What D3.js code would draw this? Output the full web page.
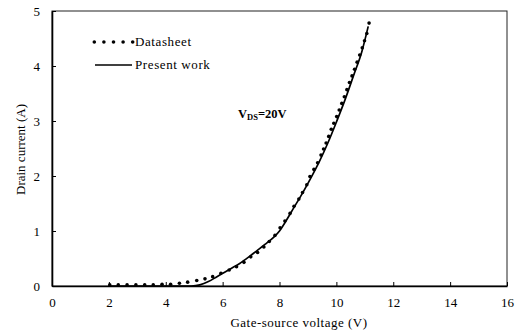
<!DOCTYPE html>
<html>
<head>
<meta charset="utf-8">
<script src="https://cdn.jsdelivr.net/npm/d3@7"></script>
<style>
  html, body { margin: 0; padding: 0; background: #fff; }
  svg { display: block; }
  text { font-family: "Liberation Serif", "Times New Roman", serif; fill: #000; }
</style>
</head>
<body>
<svg id="chart" width="520" height="336"></svg>
<script>
// Gate-source voltage (V) and drain current (A) for the datasheet points
const datasheetVgs = [2.03, 2.33, 2.64, 2.95, 3.26, 3.56, 3.87, 4.17, 4.48, 4.77,
  5.09, 5.38, 5.65, 5.94, 6.23, 6.49, 6.75, 6.99, 7.23, 7.45,
  7.64, 7.84, 8.02, 8.19, 8.37, 8.51, 8.68, 8.81, 8.96, 9.07,
  9.21, 9.34, 9.46, 9.55, 9.64, 9.73, 9.82, 9.91, 10.01, 10.10,
  10.19, 10.28, 10.37, 10.46, 10.55, 10.64, 10.73, 10.82, 10.91, 10.99,
  11.07, 11.15];
const datasheetId = [0.02, 0.02, 0.02, 0.02, 0.02, 0.02, 0.03, 0.03, 0.05, 0.07,
  0.10, 0.13, 0.17, 0.23, 0.29, 0.35, 0.43, 0.53, 0.61, 0.71,
  0.81, 0.92, 1.06, 1.18, 1.32, 1.45, 1.58, 1.70, 1.84, 1.99,
  2.12, 2.24, 2.38, 2.49, 2.60, 2.72, 2.85, 2.96, 3.08, 3.20,
  3.32, 3.44, 3.57, 3.70, 3.82, 3.94, 4.07, 4.20, 4.33, 4.46,
  4.59, 4.78];

// Model curve ("Present work")
const modelVgs = [2.0, 3.0, 4.0, 4.9, 5.2, 5.5, 5.8, 6.0, 6.3, 6.6,
  6.9, 7.2, 7.5, 7.8, 8.0, 8.2, 8.5, 8.8, 9.1, 9.4,
  9.7, 10.0, 10.3, 10.6, 10.9, 11.12];
const modelId = [0, 0, 0, 0, 0.02, 0.08, 0.17, 0.23, 0.32, 0.41,
  0.52, 0.64, 0.76, 0.89, 1.0, 1.16, 1.42, 1.68, 1.96, 2.26,
  2.60, 2.98, 3.38, 3.82, 4.27, 4.72];

const xTicks = [0, 2, 4, 6, 8, 10, 12, 14, 16];
const yTicks = [0, 1, 2, 3, 4, 5];
const seriesNames = ["Datasheet", "Present work"];

const svg = d3.select("#chart");
const plotLeft = 52, plotRight = 507, plotTop = 11, plotBottom = 286;

const x = d3.scaleLinear().domain([0, 16]).range([plotLeft, plotRight]);
const y = d3.scaleLinear().domain([0, 5]).range([plotBottom, plotTop]);

// plot frame
svg.append("rect")
  .attr("x", plotLeft).attr("y", plotTop)
  .attr("width", plotRight - plotLeft).attr("height", plotBottom - plotTop)
  .attr("fill", "none").attr("stroke", "#222").attr("stroke-width", 1);

// axes with inward ticks
const xAxis = svg.append("g")
  .attr("transform", `translate(0,${plotBottom})`)
  .call(d3.axisBottom(x).tickValues(xTicks).tickFormat(d3.format("d"))
    .tickSizeInner(-4).tickSizeOuter(0).tickPadding(12));
const yAxis = svg.append("g")
  .attr("transform", `translate(${plotLeft},0)`)
  .call(d3.axisLeft(y).tickValues(yTicks).tickFormat(d3.format("d"))
    .tickSizeInner(-4).tickSizeOuter(0).tickPadding(12));

[xAxis, yAxis].forEach(g => {
  g.select(".domain").attr("stroke", "#000").attr("stroke-width", 1.6);
  g.selectAll(".tick line").attr("stroke", "#000").attr("stroke-width", 1);
  g.selectAll(".tick text")
    .style("font-family", '"Liberation Serif", "Times New Roman", serif')
    .style("font-size", "13px").attr("fill", "#000");
});

// axis titles
svg.append("text")
  .attr("x", 299).attr("y", 327)
  .attr("text-anchor", "middle")
  .style("font-size", "13px").style("letter-spacing", "0.5px")
  .text("Gate-source voltage (V)");
svg.append("text")
  .attr("transform", `translate(25,${(plotTop + plotBottom) / 2 + 1}) rotate(-90)`)
  .attr("text-anchor", "middle")
  .style("font-size", "13px")
  .text("Drain current (A)");

// model line
const line = d3.line()
  .x((d, i) => x(modelVgs[i]))
  .y((d, i) => y(modelId[i]))
  .curve(d3.curveMonotoneX);
svg.append("path")
  .datum(modelVgs)
  .attr("d", line)
  .attr("fill", "none")
  .attr("stroke", "#000")
  .attr("stroke-width", 1.7);

// datasheet points
svg.append("g").selectAll("circle")
  .data(datasheetVgs)
  .join("circle")
  .attr("cx", d => x(d))
  .attr("cy", (d, i) => y(datasheetId[i]))
  .attr("r", 1.8)
  .attr("fill", "#000");

// legend
const legend = svg.append("g");
d3.range(5).forEach(i => {
  legend.append("circle")
    .attr("cx", 94.3 + i * 9.6).attr("cy", 42)
    .attr("r", 1.8).attr("fill", "#000");
});
legend.append("line")
  .attr("x1", 95).attr("x2", 132)
  .attr("y1", 65).attr("y2", 65)
  .attr("stroke", "#000").attr("stroke-width", 1.7);
legend.selectAll("text")
  .data(seriesNames)
  .join("text")
  .attr("x", 135)
  .attr("y", (d, i) => i === 0 ? 45.5 : 69)
  .style("font-size", "13px").style("letter-spacing", "0.6px")
  .text(d => d);

// operating condition label
const cond = svg.append("text")
  .attr("x", 238).attr("y", 118)
  .style("font-size", "12.5px").style("font-weight", "bold");
cond.append("tspan").text("V");
cond.append("tspan").attr("dy", 2).style("font-size", "8.5px").text("DS");
cond.append("tspan").attr("dy", -2).text("=20V");
</script>
</body>
</html>
